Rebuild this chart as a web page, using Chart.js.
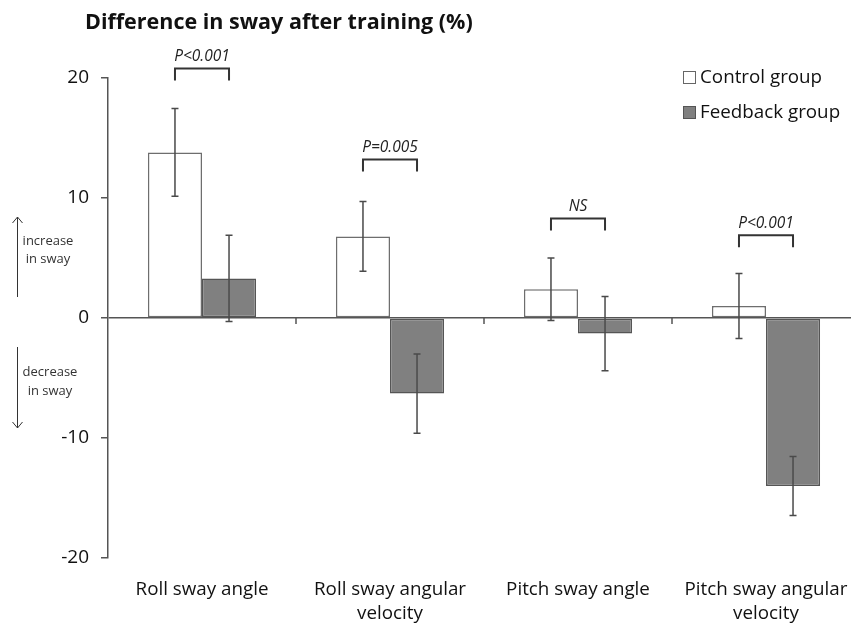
<!DOCTYPE html>
<html>
<head>
<meta charset="utf-8">
<script src="https://cdn.jsdelivr.net/npm/chart.js@4.4.1/dist/chart.umd.min.js"></script>
<style>
  html, body { margin: 0; padding: 0; background: #fff; overflow: hidden; }
  #wrap { width: 870px; height: 624px; position: relative; }
</style>
</head>
<body>
<div id="wrap"><canvas id="c" width="870" height="624"></canvas></div>
<script>
// ---- data ----
const categories = [
  'Roll sway angle',
  ['Roll sway angular', 'velocity'],
  'Pitch sway angle',
  ['Pitch sway angular', 'velocity']
];
const controlValues = [13.8, 6.8, 2.4, 1.0];
const controlErrors = [3.65, 2.9, 2.6, 2.7];
const feedbackValues = [3.3, -6.3, -1.3, -14.0];
const feedbackErrors = [3.6, 3.3, 3.1, 2.45];
const seriesNames = ['Control group', 'Feedback group'];
const yTicks = [-20, -10, 0, 10, 20];
const pLabels = ['P<0.001', 'P=0.005', 'NS', 'P<0.001'];
const bracketLevels = [20.8, 13.2, 8.3, 6.9];
const titleText = 'Difference in sway after training (%)';

const FONT = "'Open Sans', 'DejaVu Sans', sans-serif";

const errorBarPlugin = {
  id: 'errorBars',
  afterDatasetsDraw(chart) {
    const ctx = chart.ctx;
    const y = chart.scales.y;
    const errs = [controlErrors, feedbackErrors];
    const vals = [controlValues, feedbackValues];
    ctx.save();
    ctx.strokeStyle = '#4a4a4a';
    ctx.lineWidth = 1.5;
    chart.data.datasets.forEach((ds, i) => {
      const meta = chart.getDatasetMeta(i);
      meta.data.forEach((bar, j) => {
        const x = bar.x;
        const top = y.getPixelForValue(vals[i][j] + errs[i][j]);
        const bot = y.getPixelForValue(vals[i][j] - errs[i][j]);
        ctx.beginPath();
        ctx.moveTo(x, top); ctx.lineTo(x, bot);
        ctx.moveTo(x - 3.5, top); ctx.lineTo(x + 3.5, top);
        ctx.moveTo(x - 3.5, bot); ctx.lineTo(x + 3.5, bot);
        ctx.stroke();
      });
    });
    ctx.restore();
  }
};

const decorPlugin = {
  id: 'decor',
  afterDraw(chart) {
    const ctx = chart.ctx;
    const y = chart.scales.y;
    const x = chart.scales.x;
    ctx.save();
    // category boundary ticks on zero line
    const y0 = y.getPixelForValue(0);
    const step = x.getPixelForValue(1) - x.getPixelForValue(0);
    ctx.strokeStyle = '#555';
    ctx.lineWidth = 1.5;
    for (let k = 0; k < categories.length; k++) {
      const bx = x.getPixelForValue(k) + step / 2;
      ctx.beginPath(); ctx.moveTo(bx, y0); ctx.lineTo(bx, y0 + 6); ctx.stroke();
    }
    // brackets with p-values
    const m0 = chart.getDatasetMeta(0), m1 = chart.getDatasetMeta(1);
    ctx.strokeStyle = '#333';
    ctx.lineWidth = 2;
    ctx.fillStyle = '#222';
    ctx.font = "italic 15.5px " + FONT;
    ctx.textAlign = 'center';
    ctx.textBaseline = 'middle';
    pLabels.forEach((lbl, j) => {
      const xa = m0.data[j].x, xb = m1.data[j].x;
      const yt = y.getPixelForValue(bracketLevels[j]);
      ctx.beginPath();
      ctx.moveTo(xa, yt + 12); ctx.lineTo(xa, yt); ctx.lineTo(xb, yt); ctx.lineTo(xb, yt + 12);
      ctx.stroke();
      ctx.fillText(lbl, (xa + xb) / 2, yt - 12);
    });
    // title
    ctx.fillStyle = '#111';
    ctx.textAlign = 'left';
    ctx.font = "bold 21.5px " + FONT;
    ctx.fillText(titleText, 85, 23);
    // legend
    const colors = [['#ffffff', '#666'], ['#808080', '#555']];
    ctx.font = "18.8px " + FONT;
    seriesNames.forEach((n, i) => {
      const ly = 78 + i * 35;
      ctx.fillStyle = colors[i][0];
      ctx.strokeStyle = colors[i][1];
      ctx.lineWidth = 1;
      ctx.fillRect(683.5, ly - 6.5, 12, 12);
      ctx.strokeRect(683.5, ly - 6.5, 12, 12);
      ctx.fillStyle = '#111';
      ctx.fillText(n, 700, ly);
    });
    // left annotations
    ctx.strokeStyle = '#333';
    ctx.lineWidth = 1;
    const ax = 17.5;
    ctx.beginPath();
    ctx.moveTo(ax, 297); ctx.lineTo(ax, 217);
    ctx.moveTo(ax - 5, 223); ctx.lineTo(ax, 217); ctx.lineTo(ax + 5, 223);
    ctx.moveTo(ax, 347); ctx.lineTo(ax, 428);
    ctx.moveTo(ax - 5, 422); ctx.lineTo(ax, 428); ctx.lineTo(ax + 5, 422);
    ctx.stroke();
    ctx.fillStyle = '#333';
    ctx.font = "13px " + FONT;
    ctx.textAlign = 'center';
    ctx.fillText('increase', 48, 241);
    ctx.fillText('in sway', 48, 259);
    ctx.fillText('decrease', 50, 372);
    ctx.fillText('in sway', 50, 391);
    ctx.restore();
  }
};

new Chart(document.getElementById('c'), {
  type: 'bar',
  data: {
    labels: categories,
    datasets: [
      { label: seriesNames[0], data: controlValues, backgroundColor: '#ffffff', borderColor: '#6e6e6e', borderWidth: 1.5, borderSkipped: false },
      { label: seriesNames[1], data: feedbackValues, backgroundColor: '#808080', borderColor: '#555555', borderWidth: 1.5, borderSkipped: false }
    ]
  },
  options: {
    responsive: false,
    animation: false,
    layout: { padding: { left: 0, top: 78, right: 10, bottom: 0 } },
    plugins: { legend: { display: false }, title: { display: false }, tooltip: { enabled: false } },
    datasets: { bar: { categoryPercentage: 0.575, barPercentage: 1.0 } },
    scales: {
      x: {
        grid: { display: false },
        border: { display: false },
        ticks: { color: '#111', font: { family: FONT, size: 18.8, lineHeight: 1.27 }, padding: 12, maxRotation: 0, autoSkip: false },
        afterFit(s) { s.height = 66; }
      },
      y: {
        min: -20, max: 20,
        afterBuildTicks(s) { s.ticks = yTicks.map(v => ({ value: v })); },
        grid: {
          color: c => (c.tick && c.tick.value === 0 ? '#555' : 'rgba(0,0,0,0)'),
          tickColor: '#555',
          tickLength: 7,
          lineWidth: 1.5
        },
        border: { display: true, color: '#555', width: 1.5 },
        ticks: { color: '#111', font: { family: FONT, size: 19 }, padding: 12 },
        afterFit(s) { s.width = 108; }
      }
    }
  },
  plugins: [errorBarPlugin, decorPlugin]
});
</script>
</body>
</html>
